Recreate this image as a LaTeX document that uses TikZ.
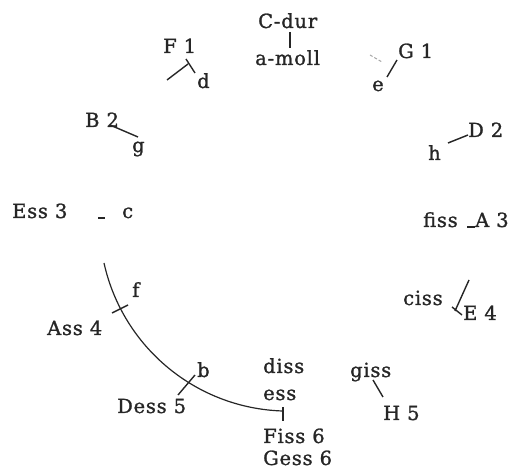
\documentclass[tikz,border=0pt]{standalone}
\usepackage{fontspec}
\setmainfont{DejaVu Serif}[LetterSpace=4, FakeBold=1.2]
\begin{document}
\begin{tikzpicture}[x=1pt,y=-1pt,
  lbl/.style={inner sep=0pt, anchor=base west, text=black!85, font=\fontsize{19.5}{22}\selectfont},
  tk/.style={line width=1.4pt, draw=black!85},
  faint/.style={line width=1pt, draw=black!35, dash pattern=on 3pt off 2pt}]
\useasboundingbox (0,0) rectangle (523,470);
% labels
\node[lbl] (cdur) at (258,28) {C-dur};
\node[lbl] (amoll) at (255,65) {a-moll};
\node[lbl] (f1) at (163,53) {F 1};
\node[lbl] (d) at (197,88) {d};
\node[lbl] (g1) at (398,58) {G 1};
\node[lbl] (e) at (372,91) {e};
\node[lbl] (b2) at (85,127) {B 2};
\node[lbl] (g) at (132,152) {g};
\node[lbl] (ess3) at (12,218) {Ess 3};
\node[lbl] (c) at (122,218) {c};
\node[lbl] (d2) at (468,137) {D 2};
\node[lbl] (h) at (428,160) {h};
\node[lbl] (fiss) at (423,227) {fiss};
\node[lbl] (a3) at (475,227) {A 3};
\node[lbl] (ciss) at (403,305) {ciss};
\node[lbl] (e4) at (463,320) {E 4};
\node[lbl] (giss) at (350,377) {giss};
\node[lbl] (h5) at (383,420) {H 5};
\node[lbl] (diss) at (263,373) {diss};
\node[lbl] (ess) at (263,400) {ess};
\node[lbl] (fiss6) at (263,443) {Fiss 6};
\node[lbl] (gess6) at (263,465) {Gess 6};
\node[lbl] (f) at (132,297) {f};
\node[lbl] (ass4) at (47,335) {Ass 4};
\node[lbl] (b) at (197,377) {b};
\node[lbl] (dess5) at (117,413) {Dess 5};
% visible arc of the circle
\draw[tk, line width=1.2pt] (104,263) arc[start angle=167.5, end angle=91.8, radius=189];
% ticks
\draw[tk] (290,32) -- (290,48);
\draw[faint] (370,55) -- (382,62);
\draw[tk] (397,60) -- (387,77);
\draw[tk] (167,80) -- (188,64);
\draw[tk] (186,59) -- (195,73);
\draw[tk] (110,125) -- (138,137);
\draw[tk] (98,218) -- (105,218);
\draw[tk] (448,143) -- (468,135);
\draw[tk] (467,227) -- (475,227);
\draw[tk] (469,280) -- (455,311);
\draw[tk] (452,307) -- (462,315);
\draw[tk] (373,380) -- (383,397);
\draw[tk] (283,407) -- (283,421);
\draw[tk] (178,395) -- (195,375);
\draw[tk] (112,313) -- (128,305);
\end{tikzpicture}
\end{document}
